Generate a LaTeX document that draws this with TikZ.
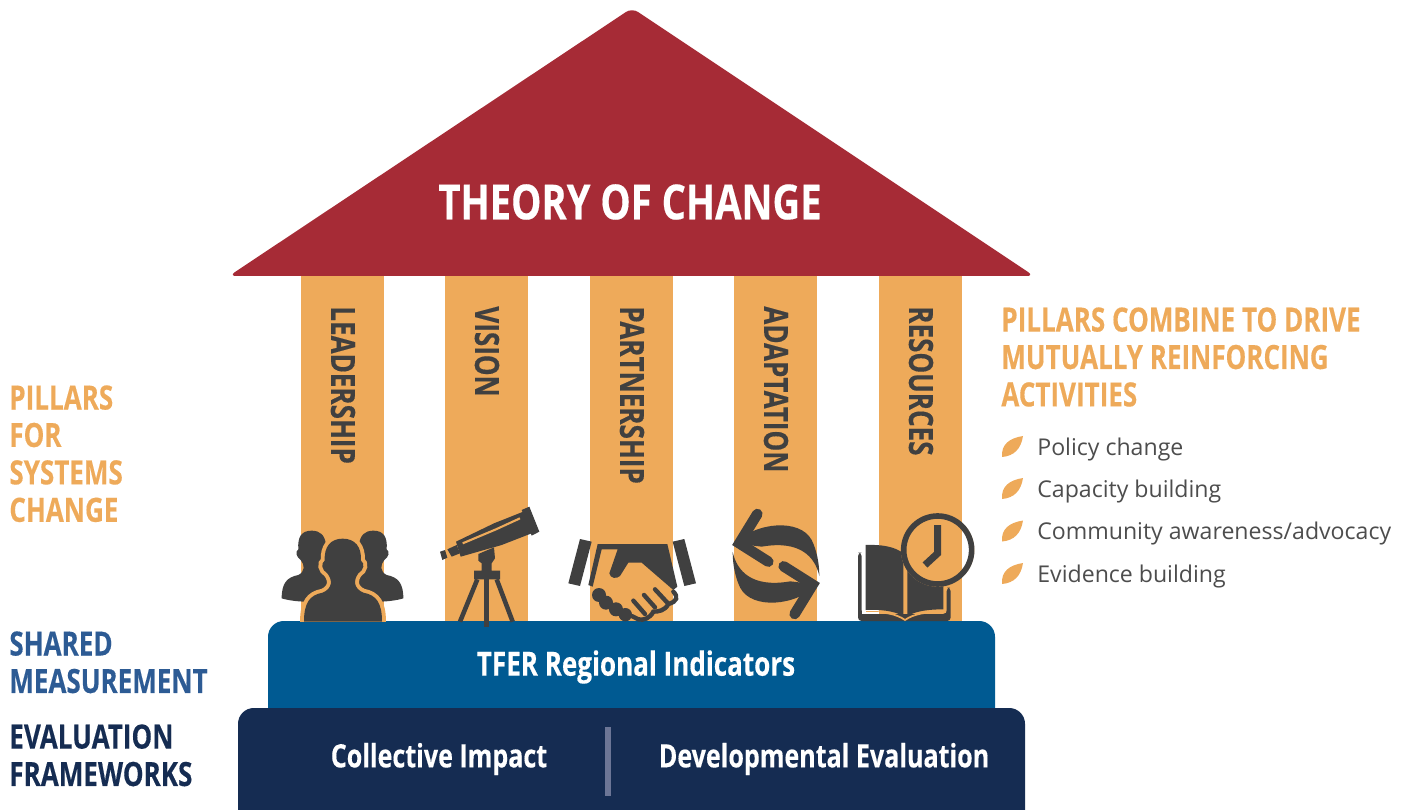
\documentclass[tikz,border=0pt]{standalone}
\usepackage{fontspec}
\setmainfont{Open Sans}
\newfontfamily\headfont[FakeStretch=0.78,BoldFeatures={FakeBold=0.3}]{Open Sans}
\newfontfamily\titlefont[FakeStretch=0.79,BoldFeatures={FakeBold=0.3}]{Open Sans}
\definecolor{roofred}{HTML}{A62B36}
\definecolor{pillargold}{HTML}{EEAA5A}
\definecolor{iconink}{HTML}{404040}
\definecolor{barblue}{HTML}{005A92}
\definecolor{labelblue}{HTML}{2D5B94}
\definecolor{basenavy}{HTML}{152C52}
\definecolor{dividergrey}{HTML}{6C7696}
\definecolor{listink}{HTML}{4D4D4D}
\tikzset{
  pillar/.style={fill=pillargold,draw=none},
  pillartext/.style={iconink,rotate=-90,anchor=west,inner sep=0pt,font=\headfont\bfseries\fontsize{19}{19}\selectfont},
  sidetext/.style={anchor=north west,align=left,inner sep=0pt,font=\headfont\bfseries\fontsize{19}{21.3}\selectfont},
  bartext/.style={white,inner sep=0pt,font=\headfont\bfseries\fontsize{19}{19}\selectfont},
  basetext/.style={white,inner sep=0pt,font=\headfont\bfseries\fontsize{18.3}{18.3}\selectfont},
  listtext/.style={listink,anchor=west,inner sep=0pt,font=\fontsize{13.15}{13.15}\selectfont},
  icon/.style={fill=iconink,draw=none},
  strut/.style={draw=iconink,line width=6pt,line cap=round}
}
\newcommand{\swaparrow}{%
  \fill[iconink] (103,160) .. controls (170,95) and (300,85) .. (335,150)
    .. controls (350,180) and (358,220) .. (358,258)
    .. controls (345,200) and (300,150) .. (185,170) -- cycle;
  \draw[strut] (172,72) -- (118,160) -- (205,215);
}
\begin{document}
\begin{tikzpicture}[x=0.02cm,y=-0.02cm]
  \useasboundingbox (0,0) rectangle (1409,810);
  % pillars
  \draw[pillar] (301,270) rectangle (384,625);
  \draw[pillar] (445,270) rectangle (528,625);
  \draw[pillar] (590,270) rectangle (673,625);
  \draw[pillar] (734,270) rectangle (817,625);
  \draw[pillar] (879,270) rectangle (962,625);
  \node[pillartext] (leadership) at (343,306) {LEADERSHIP};
  \node[pillartext] (vision) at (487,306) {VISION};
  \node[pillartext] (partnership) at (632,306) {PARTNERSHIP};
  \node[pillartext] (adaptation) at (776,306) {ADAPTATION};
  \node[pillartext] (resources) at (921,306) {RESOURCES};
  % roof
  \fill[roofred,rounded corners=4pt] (632,8) -- (1034,276) -- (229,276) -- cycle;
  \node[white,inner sep=0pt,font=\titlefont\bfseries\fontsize{27.5}{27.5}\selectfont] (title) at (630,202) {THEORY OF CHANGE};
  % base
  \fill[barblue,rounded corners=9pt] (268,621) rectangle (995,730);
  \fill[basenavy,rounded corners=9pt] (238,708) rectangle (1025,830);
  \fill[dividergrey] (605,727) rectangle (611,796);
  \node[bartext] (indicators) at (636,667) {TFER Regional Indicators};
  \node[basetext] (impact) at (439,759) {Collective Impact};
  \node[basetext] (developmental) at (824,759) {Developmental Evaluation};
  % people, telescope, handshake
  \begin{scope}[shift={(270,490)},scale=1/3]
    \fill[iconink] (125,122) .. controls (150,122) and (165,135) .. (168,165) -- (172,190) -- (165,210) -- (150,240)
      -- (200,300) -- (110,335) .. controls (80,335) and (50,330) .. (35,325)
      .. controls (35,280) and (50,262) .. (85,255) .. controls (105,245) and (105,225) .. (92,210)
      .. controls (78,200) and (75,185) .. (85,178) .. controls (82,140) and (95,122) .. (125,122) -- cycle;
    \fill[iconink] (310,122) .. controls (285,122) and (270,135) .. (267,165) -- (263,190) -- (270,210) -- (285,240)
      -- (235,300) -- (325,335) .. controls (355,335) and (385,330) .. (400,325)
      .. controls (400,280) and (385,262) .. (350,255) .. controls (330,245) and (330,225) .. (343,210)
      .. controls (357,200) and (360,185) .. (350,178) .. controls (353,140) and (340,122) .. (310,122) -- cycle;
    \begin{scope}
      \clip (60,100) rectangle (380,394);
      \fill[iconink,preaction={draw=pillargold,line width=4.5pt}] (218,146) .. controls (255,146) and (275,170) .. (273,212)
        .. controls (285,220) and (282,240) .. (265,250) .. controls (250,270) and (250,295) .. (280,308)
        .. controls (320,315) and (336,340) .. (336,395) -- (102,395)
        .. controls (102,340) and (118,315) .. (158,308) .. controls (188,295) and (188,270) .. (172,250)
        .. controls (155,240) and (152,220) .. (164,212) .. controls (162,170) and (182,146) .. (218,146) -- cycle;
    \end{scope}
    \fill[icon] (755,60) -- (778,50) -- (808,125) -- (785,137) -- cycle;
    \fill[icon] (672,100) -- (760,65) -- (785,130) -- (695,165) -- (572,200) -- (558,155) -- cycle;
    \draw[pillargold,line width=1.2pt] (578,160) -- (678,118) -- (750,85);
    \fill[icon] (532,178) -- (560,165) -- (570,190) -- (545,200) -- cycle;
    \fill[icon] (510,185) -- (525,180) -- (532,203) -- (517,210) -- cycle;
    \fill[icon] (625,192) -- (672,172) -- (675,205) -- (665,220) -- (665,242) -- (690,242) -- (690,268) -- (612,268)
      -- (612,242) -- (635,242) -- (635,220) -- (625,212) -- cycle;
    \draw[iconink,line width=2.6pt] (622,268) -- (570,395);
    \draw[iconink,line width=2.6pt] (680,268) -- (728,395);
    \draw[iconink,line width=2.8pt] (650,260) -- (650,412);
    \fill[icon] (930,147) -- (965,155) -- (930,288) -- (895,280) -- cycle;
    \fill[icon] (1208,155) -- (1243,147) -- (1278,280) -- (1243,288) -- cycle;
    \fill[icon] (983,162) -- (1192,162) -- (1222,290) -- (1210,300) -- (1115,218) -- (1075,218) -- (1050,258)
      .. controls (1040,268) and (1020,265) .. (1018,250) -- (1043,178) -- (995,178) -- (968,290) -- (955,285) -- cycle;
    \draw[iconink,line width=2.5pt,line cap=round] (1210,305) .. controls (1225,320) and (1222,335) .. (1195,342)
      .. controls (1185,362) and (1165,365) .. (1150,365) .. controls (1140,385) and (1120,392) .. (1105,388)
      -- (1085,378);
    \draw[iconink,line width=2.5pt,line cap=round] (1155,298) -- (1192,338);
    \draw[iconink,line width=2.5pt,line cap=round] (1122,315) -- (1155,352);
    \draw[iconink,line width=2.5pt,line cap=round] (1090,332) -- (1125,372);
    \fill[iconink] (987,315) circle (21);
    \fill[iconink] (1008,338) circle (21);
    \fill[iconink] (1038,358) circle (21);
    \fill[iconink] (1066,374) circle (20);
  \end{scope}
  % arrows, book, clock
  \begin{scope}[shift={(700,490)},scale=1/3]
    \swaparrow
    \begin{scope}[rotate around={180:(228,222)}]
      \swaparrow
    \end{scope}
    \fill[iconink,rounded corners=2pt] (474,188) -- (485,188) -- (485,372) -- (740,372) -- (740,293) -- (752,293) -- (752,393) -- (474,393) -- cycle;
    \draw[pillargold,line width=1pt] (497,366) .. controls (550,364) and (590,372) .. (615,390) .. controls (640,372) and (680,364) .. (738,366);
    \fill[white] (485,188) rectangle (497,372);
    \fill[white] (485,366) rectangle (537,372);
    \fill[iconink] (497,165) .. controls (545,163) and (585,170) .. (610,190) -- (610,378) .. controls (580,362) and (540,358) .. (497,360) -- cycle;
    \fill[iconink] (622,200) -- (730,200) -- (730,358) .. controls (690,358) and (650,362) .. (622,378) -- cycle;
    \fill[pillargold] (713,180) circle (110);
    \begin{scope}
      \clip (713,180) circle (110);
      \fill[white] (786,60) rectangle (830,300);
    \end{scope}
    \draw[iconink,line width=3.2pt] (713,180) circle (102);
    \draw[iconink,line width=4pt] (713,105) -- (713,190) -- (675,225);
  \end{scope}
  % side labels
  \node[sidetext,pillargold] (pillarslabel) at (9,385) {PILLARS\\FOR\\SYSTEMS\\CHANGE};
  \node[sidetext,labelblue] (sharedlabel) at (9,631) {SHARED\\MEASUREMENT};
  \node[sidetext,basenavy] (evaluationlabel) at (9,724) {EVALUATION\\FRAMEWORKS};
  \node[sidetext,pillargold] (combinelabel) at (1001,307) {PILLARS COMBINE TO DRIVE\\MUTUALLY REINFORCING\\ACTIVITIES};
  % list
  \foreach \y/\name/\txt in {449/policy/Policy change,491/capacity/Capacity building,533.5/community/Community awareness\slash advocacy,576/evidence/Evidence building}{
    \fill[pillargold] (1002,\y+8) .. controls (1001,\y-5) and (1010,\y-11) .. (1023,\y-13) .. controls (1021,\y) and (1014,\y+7) .. (1002,\y+8) -- cycle;
    \node[listtext] (\name) at (1037,\y) {\txt};
  }
\end{tikzpicture}
\end{document}
